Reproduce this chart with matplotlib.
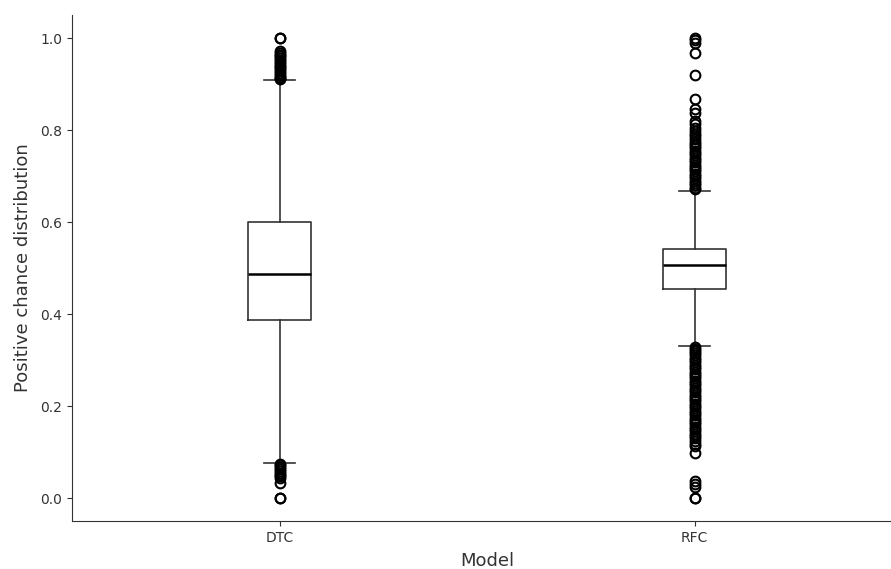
import matplotlib
matplotlib.use("Agg")
import matplotlib.pyplot as plt

models = ["DTC", "RFC"]

# box statistics
q1 = [0.388, 0.455]
med = [0.488, 0.507]
q3 = [0.599, 0.541]
whislo = [0.077, 0.331]
whishi = [0.908, 0.668]

dtc_fliers = [1.0, 0.999, 0.972, 0.968, 0.964, 0.960, 0.956, 0.952, 0.948, 0.944,
              0.940, 0.936, 0.932, 0.928, 0.924, 0.920, 0.916, 0.913, 0.910,
              0.075, 0.071, 0.067, 0.063, 0.059, 0.055, 0.051, 0.047, 0.044,
              0.033, 0.001, 0.0]
rfc_fliers = [1.0, 0.995, 0.99, 0.967, 0.92, 0.867, 0.845, 0.838, 0.82, 0.812,
              0.804, 0.798, 0.792, 0.786, 0.780, 0.775, 0.770, 0.765, 0.760, 0.755,
              0.750, 0.745, 0.740, 0.735, 0.730, 0.725, 0.720, 0.715, 0.710, 0.705,
              0.700, 0.695, 0.690, 0.685, 0.680, 0.675, 0.671,
              0.329, 0.325, 0.320, 0.315, 0.310, 0.305, 0.300, 0.295, 0.290, 0.285,
              0.280, 0.275, 0.270, 0.265, 0.260, 0.255, 0.250, 0.245, 0.240, 0.235,
              0.230, 0.225, 0.220, 0.215, 0.210, 0.205, 0.200, 0.195, 0.190, 0.185,
              0.180, 0.175, 0.170, 0.165, 0.160, 0.155, 0.150, 0.145, 0.140, 0.135,
              0.130, 0.124, 0.118, 0.113, 0.097, 0.037, 0.030, 0.024, 0.001, 0.0]
fliers = [dtc_fliers, rfc_fliers]

stats = []
for i in range(len(models)):
    stats.append({"label": models[i], "q1": q1[i], "med": med[i], "q3": q3[i],
                  "whislo": whislo[i], "whishi": whishi[i], "fliers": fliers[i]})

fig = plt.figure(figsize=(8.91, 5.69), dpi=100)
ax = fig.add_axes([72 / 891, 48 / 569, 830 / 891, 506 / 569])

dark = "#333333"
ax.bxp(stats, positions=[0, 1], widths=0.15,
       boxprops=dict(color=dark, linewidth=1.2),
       whiskerprops=dict(color=dark, linewidth=1.2),
       capprops=dict(color=dark, linewidth=1.2),
       medianprops=dict(color="black", linewidth=1.8),
       flierprops=dict(marker="o", markerfacecolor="none", markeredgecolor="black",
                       markersize=7, markeredgewidth=1.5))

ax.set_xlim(-0.5, 1.5)
ax.set_ylim(-0.05, 1.05)
ax.set_yticks([0.0, 0.2, 0.4, 0.6, 0.8, 1.0])
ax.spines["top"].set_visible(False)
ax.spines["right"].set_visible(False)
ax.spines["left"].set_color(dark)
ax.spines["bottom"].set_color(dark)
ax.tick_params(colors=dark, labelsize=10)
ax.set_xlabel("Model", fontsize=13, color=dark, labelpad=5)
ax.set_ylabel("Positive chance distribution", fontsize=13, color=dark, labelpad=6)

fig.savefig("out.png", dpi=100)
